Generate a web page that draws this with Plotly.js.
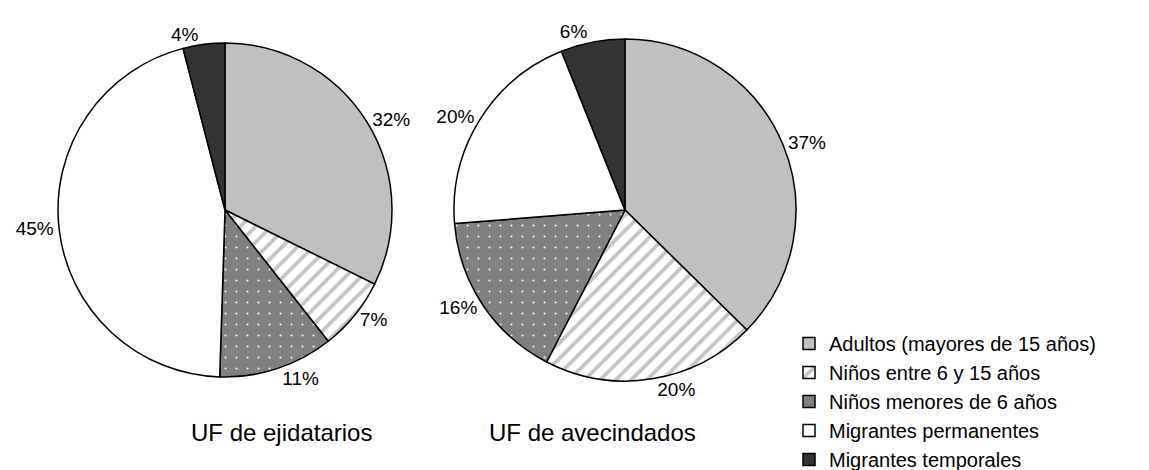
<!DOCTYPE html>
<html>
<head>
<meta charset="utf-8">
<script src="https://cdn.plot.ly/plotly-3.0.1.min.js"></script>
<style>html,body{margin:0;padding:0;background:#fff;}#chart{width:1149px;height:470px;}</style>
</head>
<body>
<div id="chart"></div>
<script>
const categories = ["Adultos (mayores de 15 años)", "Niños entre 6 y 15 años", "Niños menores de 6 años", "Migrantes permanentes", "Migrantes temporales"];
const ejidatarios = [32, 7, 11, 45, 4];
const avecindados = [37, 20, 16, 20, 6];
const pieTitles = ["UF de ejidatarios", "UF de avecindados"];

const W = 1149, H = 470;
const fills = ["#c0c0c0", "#ffffff", "#808080", "#ffffff", "#333333"];
const pattern = {
  shape: ["", "/", ".", "", ""],
  fgcolor: ["#c0c0c0", "#c4c4c4", "#f4f4f4", "#ffffff", "#333333"],
  bgcolor: ["#c0c0c0", "#ffffff", "#808080", "#ffffff", "#333333"],
  size: [8, 11, 11, 8, 8],
  solidity: [0.3, 0.35, 0.03, 0.3, 0.3],
  fillmode: "replace"
};
const font = {family: "Liberation Sans, Arial, sans-serif", color: "#000"};

function dom(cx, cy, r) {
  return {x: [(cx - r) / W, (cx + r) / W], y: [1 - (cy + r) / H, 1 - (cy - r) / H]};
}

function pie(vals, d, showlegend) {
  return {
    type: "pie",
    labels: categories,
    values: vals,
    sort: false,
    direction: "clockwise",
    rotation: 0,
    domain: d,
    textposition: "outside",
    texttemplate: "%{value}%",
    textfont: Object.assign({size: 19}, font),
    outsidetextfont: Object.assign({size: 19}, font),
    marker: {colors: fills, pattern: pattern, line: {color: "#000", width: 1.5}},
    showlegend: showlegend,
    hoverinfo: "label+value"
  };
}

const data = [
  pie(ejidatarios, dom(225, 210, 167), true),
  pie(avecindados, dom(625, 210, 171), false)
];

const layout = {
  width: W, height: H,
  margin: {l: 0, r: 0, t: 0, b: 0, autoexpand: false},
  paper_bgcolor: "#fff",
  plot_bgcolor: "#fff",
  font: font,
  showlegend: true,
  legend: {
    x: 789 / W, y: 1 - 324 / H, xanchor: "left", yanchor: "top",
    font: Object.assign({size: 20}, font),
    bgcolor: "rgba(0,0,0,0)", borderwidth: 0, tracegroupgap: 0
  },
  annotations: [
    {text: pieTitles[0], x: 281 / W, y: 1 - 432 / H, xref: "paper", yref: "paper", showarrow: false, xanchor: "center", yanchor: "middle", font: Object.assign({size: 24}, font)},
    {text: pieTitles[1], x: 592 / W, y: 1 - 432 / H, xref: "paper", yref: "paper", showarrow: false, xanchor: "center", yanchor: "middle", font: Object.assign({size: 24}, font)}
  ]
};

Plotly.newPlot("chart", data, layout, {displayModeBar: false, staticPlot: true});
</script>
</body>
</html>
